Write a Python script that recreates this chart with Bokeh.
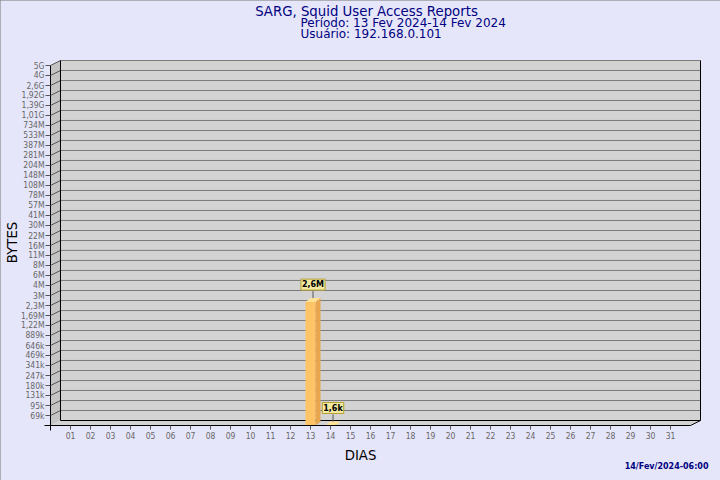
import math
from bokeh.plotting import figure
from bokeh.models import Range1d, FixedTicker, CustomJSTickFormatter, Label
from bokeh.embed import file_html
from bokeh.resources import INLINE

# ---- data ----
title_main = "SARG, Squid User Access Reports"
title_period = "Período: 13 Fev 2024-14 Fev 2024"
title_user = "Usuário: 192.168.0.101"
footer_text = "14/Fev/2024-06:00"
x_title = "DIAS"
y_title = "BYTES"

day_ticks = list(range(1, 32))
day_labels = ["%02d" % d for d in day_ticks]

y_tick_labels = ["69k", "95k", "131k", "180k", "247k", "341k", "469k", "646k", "889k",
                 "1,22M", "1,69M", "2,3M", "3M", "4M", "6M", "8M", "11M", "16M", "22M",
                 "30M", "41M", "57M", "78M", "108M", "148M", "204M", "281M", "387M",
                 "533M", "734M", "1,01G", "1,39G", "1,92G", "2,6G", "4G", "5G"]
y_tick_values = [69e3, 95e3, 131e3, 180e3, 248e3, 342e3, 471e3, 648e3, 893e3,
                 1.23e6, 1.69e6, 2.33e6, 3.21e6, 4.43e6, 6.10e6, 8.40e6, 11.6e6, 15.9e6, 21.9e6,
                 30.2e6, 41.6e6, 57.3e6, 78.9e6, 108.6e6, 149.6e6, 206e6, 283.7e6, 390.8e6,
                 538e6, 741e6, 1.02e9, 1.405e9, 1.935e9, 2.66e9, 3.67e9, 5.05e9]

bar_days = [13, 14]
bar_bytes = [2.6e6, 1.6e3]
bar_labels = ["2,6M", "1,6k"]

# ---- scale helpers (3D depth expressed in axis steps) ----
step = (y_tick_values[-1] / y_tick_values[0]) ** (1.0 / (len(y_tick_values) - 1))
y_floor = y_tick_values[0] / step
wall_dy = step ** 0.5          # back wall depth (half a step up)
wall_dx = 0.5                  # back wall depth (half a day right)
bar_dy = step ** 0.4
bar_dx = 0.25
bar_half = 0.25
y_top = y_tick_values[-1] * wall_dy
x_last = day_ticks[-1] + 1
x_end = x_last + wall_dx

BG = "#e6e6fa"
NAVY = "#000080"
FONT = "DejaVu Sans"
TICK_FONT = "DejaVu Sans Condensed, DejaVu Sans"

W, H = 720, 480
# plot frame covers the whole canvas; axes are pinned at fixed data locations
p = figure(width=W, height=H, output_backend="svg", toolbar_location=None,
           x_range=Range1d(-2.5, 33.5),
           y_range=Range1d(y_floor / step ** 5.5, y_floor * step ** 42.5),
           y_axis_type="log",
           min_border_left=0, min_border_right=0, min_border_top=0, min_border_bottom=0)
p.background_fill_color = BG
p.border_fill_color = BG
p.outline_line_color = None
p.grid.visible = False
p.styles = {"outline": "1.5px solid #777777", "outline-offset": "-1.5px"}

# walls
p.patches(xs=[[wall_dx, x_end, x_end, wall_dx],
              [0, wall_dx, wall_dx, 0],
              [0, x_last, x_end, wall_dx]],
          ys=[[y_floor * wall_dy, y_floor * wall_dy, y_top, y_top],
              [y_floor, y_floor * wall_dy, y_top, y_tick_values[-1]],
              [y_floor, y_floor, y_floor * wall_dy, y_floor * wall_dy]],
          fill_color=["#d3d3d3", "#c4c4c4", "#d3d3d3"], line_color=None)

# grid lines on back wall and side wall
gx0 = [wall_dx] * len(y_tick_values)
gx1 = [x_end] * len(y_tick_values)
gy = [v * wall_dy for v in y_tick_values]
p.segment(x0=gx0, y0=gy, x1=gx1, y1=gy, line_color="#7a7a7a", line_width=1)
p.segment(x0=[0] * len(y_tick_values), y0=y_tick_values, x1=gx0, y1=gy,
          line_color="#555555", line_width=1)

# wall edges
p.segment(x0=[wall_dx, wall_dx, x_end, x_last],
          y0=[y_floor * wall_dy, y_floor * wall_dy, y_floor * wall_dy, y_floor],
          x1=[wall_dx, x_end, x_end, x_end],
          y1=[y_top, y_floor * wall_dy, y_top, y_floor * wall_dy],
          line_color="black", line_width=1)

# bars
fx, fy, sx, sy, tx, ty = [], [], [], [], [], []
for d, v in zip(bar_days, bar_bytes):
    top = max(v, y_floor)
    l, r = d - bar_half, d + bar_half
    fx.append([l, r, r, l]); fy.append([y_floor, y_floor, top, top])
    sx.append([r, r, r + bar_dx, r + bar_dx]); sy.append([y_floor, top, top * bar_dy, y_floor * bar_dy])
    tx.append([l, r, r + bar_dx, l + bar_dx]); ty.append([top, top, top * bar_dy, top * bar_dy])
p.patches(xs=fx, ys=fy, fill_color="#ffc466", line_color=None)
p.patches(xs=sx, ys=sy, fill_color="#e8a64e", line_color=None)
p.patches(xs=tx, ys=ty, fill_color="#ffe296", line_color=None)

# value labels
for d, v, t in zip(bar_days, bar_bytes, bar_labels):
    top = max(v, y_floor) * bar_dy
    cx = d + bar_dx / 2
    p.segment(x0=[cx], y0=[top], x1=[cx], y1=[top * step ** 0.7], line_color="#555555")
    p.add_layout(Label(x=cx, y=top, y_offset=8, text=t, text_align="center",
                       text_baseline="bottom", text_font=FONT, text_font_size="8px",
                       text_font_style="bold", text_color="black",
                       background_fill_color="#f2e9a0", border_line_color="#b5a030",
                       padding=1))

# axes
yax = p.yaxis[0]
yax.fixed_location = 0
yax.ticker = FixedTicker(ticks=y_tick_values)
yax.formatter = CustomJSTickFormatter(args=dict(labels=y_tick_labels), code="return labels[index];")
yax.bounds = (y_floor / step ** 0.5, y_tick_values[-1])
yax.major_tick_out = 5
yax.major_tick_in = 0
yax.minor_tick_line_color = None
yax.major_tick_line_color = "#555555"
yax.axis_line_color = "black"
yax.major_label_standoff = 1
yax.major_label_text_font = TICK_FONT
yax.major_label_text_font_size = "8.5px"
yax.major_label_text_color = "#666666"

xax = p.xaxis[0]
xax.fixed_location = y_floor
xax.ticker = FixedTicker(ticks=day_ticks)
xax.formatter = CustomJSTickFormatter(args=dict(labels=day_labels), code="return labels[index];")
xax.bounds = (-0.3, x_last)
xax.major_tick_out = 4
xax.major_tick_in = 0
xax.minor_tick_line_color = None
xax.major_tick_line_color = "#555555"
xax.axis_line_color = "black"
xax.major_label_standoff = 2
xax.major_label_text_font = TICK_FONT
xax.major_label_text_font_size = "8.5px"
xax.major_label_text_color = "#666666"

# texts placed in canvas pixels (frame == canvas; screen y counts up from the bottom)
def txt(text, px, py, align="left", size="12px", color=NAVY, style="normal", angle=0.0):
    p.add_layout(Label(x=px, y=H - py, x_units="screen", y_units="screen", text=text,
                       text_align=align, text_baseline="middle", text_font=FONT,
                       text_font_size=size, text_color=color, text_font_style=style,
                       angle=angle))

txt(title_main, 366, 11, align="center", size="13.3px")
txt(title_period, 300, 22, size="12px")
txt(title_user, 300, 33, size="12px")
txt(y_title, 12, 242, align="center", size="13.3px", color="black", angle=math.pi / 2)
txt(x_title, 360, 455, align="center", size="13.3px", color="black")
txt(footer_text, 708, 466, align="right", size="8px", style="bold")

open("out.html", "w").write(file_html(p, INLINE))
